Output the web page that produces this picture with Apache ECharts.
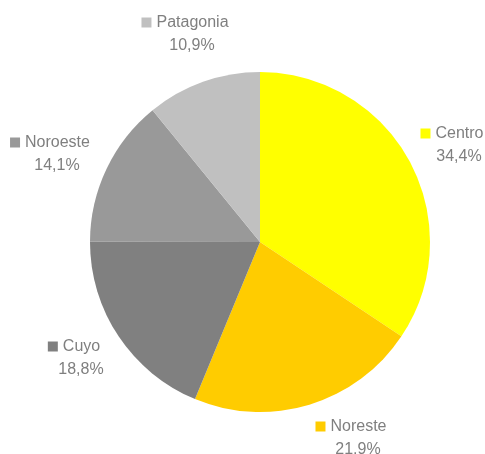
<!DOCTYPE html>
<html>
<head>
<meta charset="utf-8">
<script src="https://cdn.jsdelivr.net/npm/echarts@6/dist/echarts.min.js"></script>
<style>
html,body{margin:0;padding:0;background:#fff;}
#chart{width:485px;height:454px;}
</style>
</head>
<body>
<div id="chart"></div>
<script>
var regiones = ['Centro', 'Noreste', 'Cuyo', 'Noroeste', 'Patagonia'];
var porcentajes = [34.4, 21.9, 18.8, 14.1, 10.9];
var colores = ['#FFFF00', '#FFCC00', '#808080', '#999999', '#C0C0C0'];
// label block centres (x, y) per slice
var labelPos = [[452, 145], [351, 438], [74, 358], [50, 154], [185, 34]];

var myChart = echarts.init(document.getElementById('chart'));

var rich = {
	n : { fontSize : 16, color : '#7f7f7f', fontFamily : 'Liberation Sans', padding : [0, 0, 0, 5], lineHeight : 23 },
	p : { fontSize : 16, color : '#7f7f7f', fontFamily : 'Liberation Sans', padding : [0, 0, 0, 14], lineHeight : 23 }
};
for (var i = 0; i < colores.length; i++) {
	rich['m' + i] = { width : 10, height : 10, backgroundColor : colores[i] };
}

var data = [];
for (var i = 0; i < regiones.length; i++) {
	data.push({ name : regiones[i], value : porcentajes[i], itemStyle : { color : colores[i] } });
}

option = {
	animation : false,
	series : [{
		type : 'pie',
		center : [260, 242],
		radius : 170,
		startAngle : 90,
		clockwise : true,
		data : data,
		label : {
			show : true,
			position : 'outside',
			overflow : 'none',
			formatter : function (p) {
				return '{m' + p.dataIndex + '|}{n|' + p.name + '}\n{p|' + p.value.toFixed(1).replace('.', ',') + '%}';
			},
			rich : rich
		},
		labelLine : { show : false },
		labelLayout : function (params) {
			var pos = labelPos[params.dataIndex];
			return { x : pos[0], y : pos[1], align : 'center', verticalAlign : 'middle' };
		},
		emphasis : { disabled : true }
	}]
};
myChart.setOption(option);
</script>
</body>
</html>
